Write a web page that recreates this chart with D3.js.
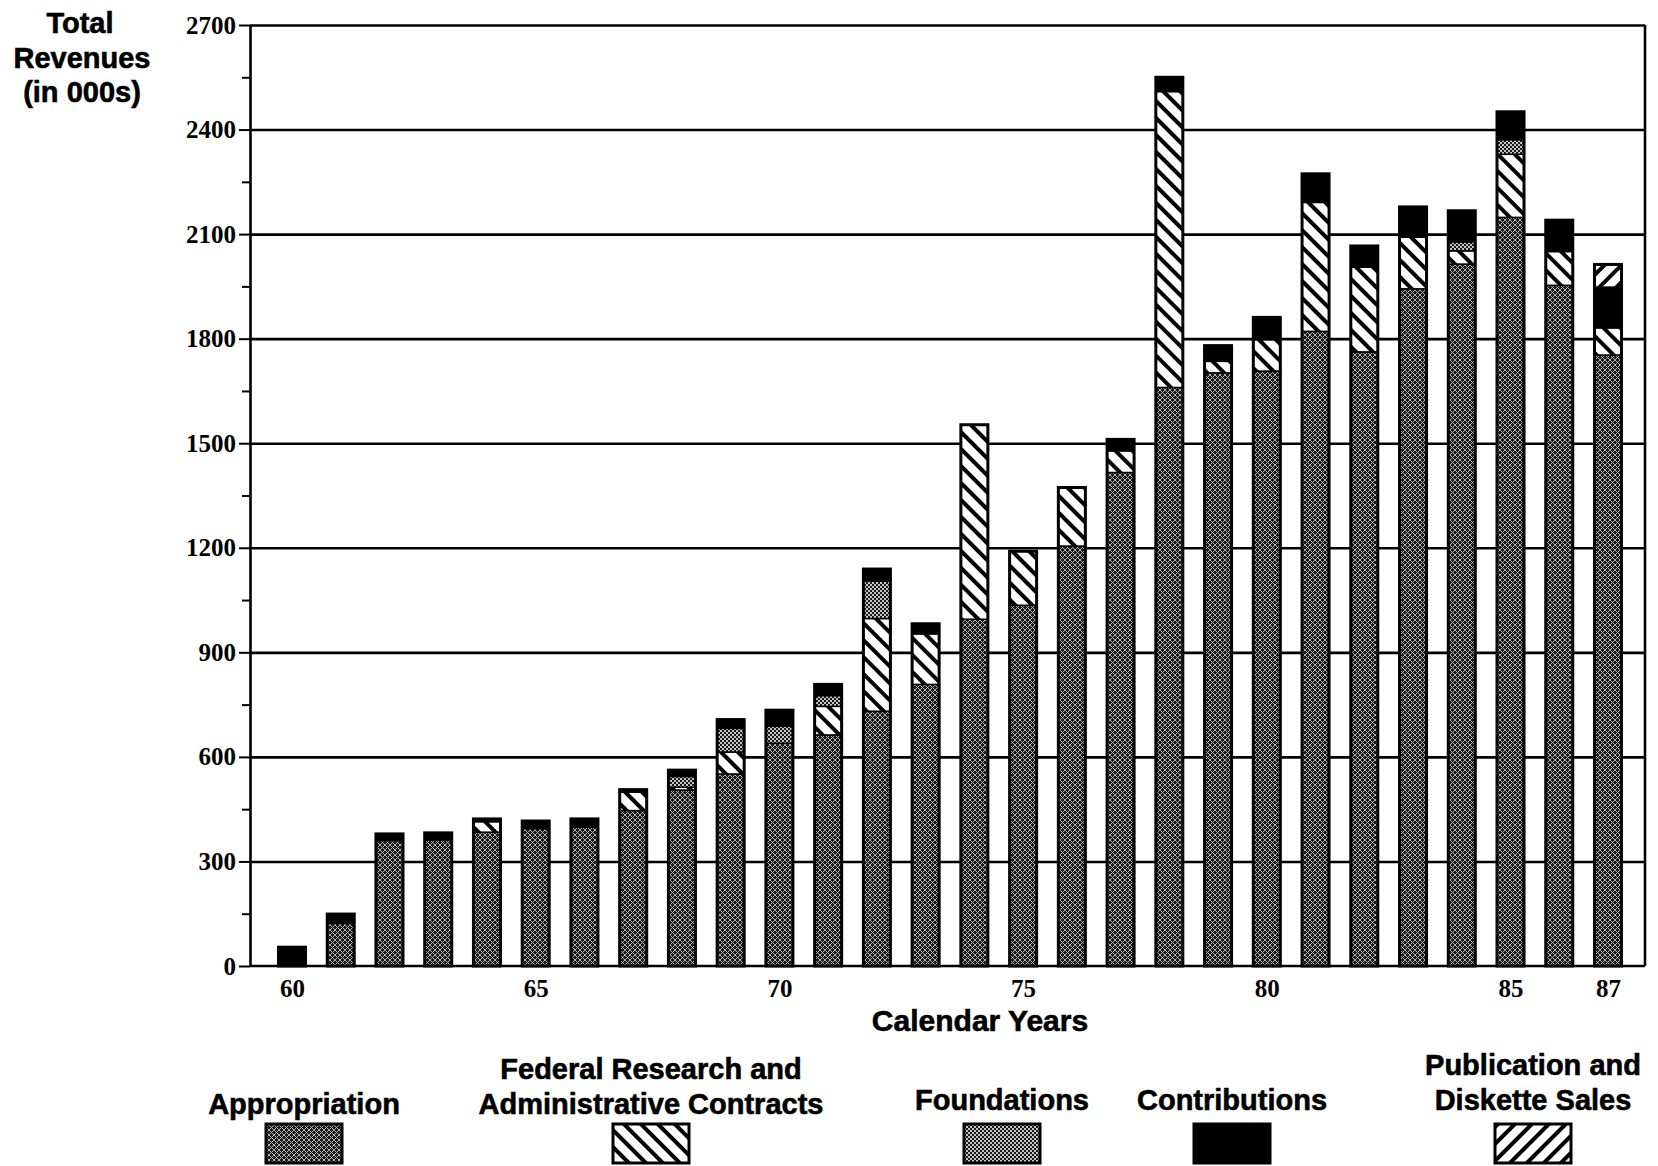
<html lang="en">
<head>
  <title>Total Revenues 1960-1987</title>
  <meta charset="utf-8"/>
  <script src="https://d3js.org/d3.v7.min.js"></script>
  <style>
  body { margin: 0; background: #fff; }
  .sans {
    font-family: "Liberation Sans", Arial, sans-serif;
    font-weight: bold;
    fill: #000;
    stroke: #000;
    stroke-width: 0.6px;
  }
  .axis text {
    font-family: "Liberation Serif", "Times New Roman", serif;
    font-weight: bold;
    fill: #000;
  }
  .axis path, .axis line { stroke: #000; }
  </style>
</head>
<body>
  <svg id="chart" width="1658" height="1166"></svg>

  <script>
    // values in thousands of dollars
    const years = [60, 61, 62, 63, 64, 65, 66, 67, 68, 69, 70, 71, 72, 73,
                   74, 75, 76, 77, 78, 79, 80, 81, 82, 83, 84, 85, 86, 87];
    const appropriation = [0, 122, 360, 362, 384, 394, 399, 446, 505, 551, 639, 663, 731, 808,
                           995, 1035, 1205, 1416, 1660, 1702, 1707, 1821, 1762, 1943, 2014, 2148, 1953, 1753];
    const federal = [0, 0, 0, 0, 30, 0, 0, 53, 8, 63, 0, 82, 266, 145,
                     558, 155, 168, 62, 849, 33, 90, 370, 243, 148, 38, 181, 97, 78];
    const foundations = [0, 0, 0, 0, 0, 0, 0, 0, 31, 68, 49, 31, 108, 0,
                         0, 0, 0, 0, 0, 0, 0, 0, 0, 0, 26, 42, 0, 0];
    const contributions = [54, 27, 19, 20, 8, 22, 23, 7, 18, 25, 46, 32, 34, 29,
                           0, 0, 0, 33, 41, 45, 64, 82, 61, 87, 89, 80, 90, 117];
    const publications = [0, 0, 0, 0, 0, 0, 0, 0, 0, 0, 0, 0, 0, 0,
                          0, 0, 0, 0, 0, 0, 0, 0, 0, 0, 0, 0, 0, 65];
    const yearLabels = [60, 65, 70, 75, 80, 85, 87];
    const keys = ["appropriation", "federal", "foundations", "contributions", "publications"];
    const legendLabels = [["Appropriation"], ["Federal Research and", "Administrative Contracts"],
                          ["Foundations"], ["Contributions"], ["Publication and", "Diskette Sales"]];

    const svg = d3.select("#chart");
    const plotLeft = 250, plotRight = 1645, plotTop = 25, plotBottom = 966;

    const rows = years.map((yr, i) => ({
      year: yr,
      appropriation: appropriation[i],
      federal: federal[i],
      foundations: foundations[i],
      contributions: contributions[i],
      publications: publications[i]
    }));
    const stacked = d3.stack().keys(keys)(rows);

    const x = d3.scaleLinear().domain([60, 87]).range([292, 1608]);
    const y = d3.scaleLinear().domain([0, 2700]).range([plotBottom, plotTop]);
    const barW = 27;

    // fill patterns
    const defs = svg.append("defs");
    let p = defs.append("pattern").attr("id", "p-approp").attr("patternUnits", "userSpaceOnUse")
      .attr("width", 5).attr("height", 5);
    p.append("rect").attr("width", 5).attr("height", 5).attr("fill", "#1a1a1a");
    p.append("path").attr("d", "M0,0L5,5M5,0L0,5").attr("stroke", "#bdbdbd").attr("stroke-width", 0.9);

    p = defs.append("pattern").attr("id", "p-found").attr("patternUnits", "userSpaceOnUse")
      .attr("width", 4).attr("height", 4);
    p.append("rect").attr("width", 4).attr("height", 4).attr("fill", "#c4c4c4");
    p.append("rect").attr("width", 2).attr("height", 2).attr("fill", "#1a1a1a");
    p.append("rect").attr("x", 2).attr("y", 2).attr("width", 2).attr("height", 2).attr("fill", "#1a1a1a");

    function stripes(id, angle) {
      const s = defs.append("pattern").attr("id", id).attr("patternUnits", "userSpaceOnUse")
        .attr("width", 12).attr("height", 12).attr("patternTransform", "rotate(" + angle + ")");
      s.append("rect").attr("width", 12).attr("height", 12).attr("fill", "#fff");
      s.append("rect").attr("width", 4).attr("height", 12).attr("fill", "#000");
    }
    stripes("p-fed", -45);
    stripes("p-pub", 45);

    const fills = {
      appropriation: "url(#p-approp)",
      federal: "url(#p-fed)",
      foundations: "url(#p-found)",
      contributions: "#000",
      publications: "url(#p-pub)"
    };

    // gridlines
    svg.append("g").attr("class", "axis grid")
      .attr("transform", "translate(" + plotLeft + ",0)")
      .call(d3.axisLeft(y).tickValues(d3.range(300, 2701, 300)).tickSize(-(plotRight - plotLeft)).tickFormat(""))
      .call(g => g.select(".domain").remove())
      .call(g => g.selectAll("line").attr("stroke-width", 2.6));

    // right frame and base line
    svg.append("line").attr("x1", plotRight).attr("x2", plotRight).attr("y1", y(2700)).attr("y2", y(0))
      .attr("stroke", "#000").attr("stroke-width", 2.6);
    svg.append("line").attr("x1", plotLeft).attr("x2", plotRight).attr("y1", y(0)).attr("y2", y(0))
      .attr("stroke", "#000").attr("stroke-width", 2.6);

    // y axis: minor ticks, then labelled major ticks
    svg.append("g").attr("class", "axis")
      .attr("transform", "translate(" + plotLeft + ",0)")
      .call(d3.axisLeft(y).tickValues(d3.range(150, 2700, 300)).tickSize(8).tickSizeOuter(0).tickFormat(""))
      .call(g => g.select(".domain").remove())
      .call(g => g.selectAll("line").attr("stroke-width", 2));
    svg.append("g").attr("class", "axis")
      .attr("transform", "translate(" + plotLeft + ",0)")
      .call(d3.axisLeft(y).tickValues(d3.range(0, 2701, 300)).tickSize(11).tickSizeOuter(0).tickPadding(3)
        .tickFormat(d3.format("d")))
      .call(g => g.select(".domain").attr("stroke-width", 2.6))
      .call(g => g.selectAll("line").attr("stroke-width", 2))
      .call(g => g.selectAll("text").attr("font-size", 25));

    // x labels
    svg.append("g").attr("class", "axis")
      .attr("transform", "translate(0," + plotBottom + ")")
      .call(d3.axisBottom(x).tickValues(yearLabels).tickSize(0).tickPadding(13).tickFormat(d3.format("d")))
      .call(g => g.select(".domain").remove())
      .call(g => g.selectAll("text").attr("font-size", 25));

    // stacked bars
    const bars = svg.append("g");
    stacked.forEach(layer => {
      bars.append("g").selectAll("rect")
        .data(layer.filter(d => d[1] > d[0]))
        .join("rect")
        .attr("x", d => x(d.data.year) - barW / 2)
        .attr("width", barW)
        .attr("y", d => y(d[1]))
        .attr("height", d => y(d[0]) - y(d[1]))
        .attr("fill", fills[layer.key])
        .attr("stroke", "#000")
        .attr("stroke-width", 1.5);
    });
    bars.append("g").selectAll("rect")
      .data(stacked[stacked.length - 1])
      .join("rect")
      .attr("x", d => x(d.data.year) - barW / 2)
      .attr("width", barW)
      .attr("y", d => y(d[1]))
      .attr("height", d => y(0) - y(d[1]))
      .attr("fill", "none")
      .attr("stroke", "#000")
      .attr("stroke-width", 3);

    // titles
    const ytitle = svg.append("text").attr("class", "sans").attr("font-size", 29).attr("text-anchor", "middle");
    ytitle.append("tspan").attr("x", 80).attr("y", 33).text("Total");
    ytitle.append("tspan").attr("x", 82).attr("y", 68).text("Revenues");
    ytitle.append("tspan").attr("x", 82).attr("y", 102).text("(in 000s)");

    svg.append("text").attr("class", "sans").attr("font-size", 30).attr("text-anchor", "middle")
      .attr("x", 980).attr("y", 1031).text("Calendar Years");

    // legend
    const legendX = [304, 651, 1002, 1232, 1533];
    const legend = svg.append("g").attr("class", "legend");
    keys.forEach((k, i) => {
      const g = legend.append("g").attr("transform", "translate(" + legendX[i] + ",0)");
      const lines = legendLabels[i];
      const base = (i < 2) ? 1114 : 1110;
      lines.forEach((t, j) => {
        g.append("text").attr("class", "sans").attr("font-size", 29).attr("text-anchor", "middle")
          .attr("x", 0).attr("y", base - (lines.length - 1 - j) * 35).text(t);
      });
      g.append("rect").attr("x", -38).attr("y", 1124).attr("width", 76).attr("height", 39)
        .attr("fill", fills[k]).attr("stroke", "#000").attr("stroke-width", 3);
    });
  </script>
</body>
</html>
